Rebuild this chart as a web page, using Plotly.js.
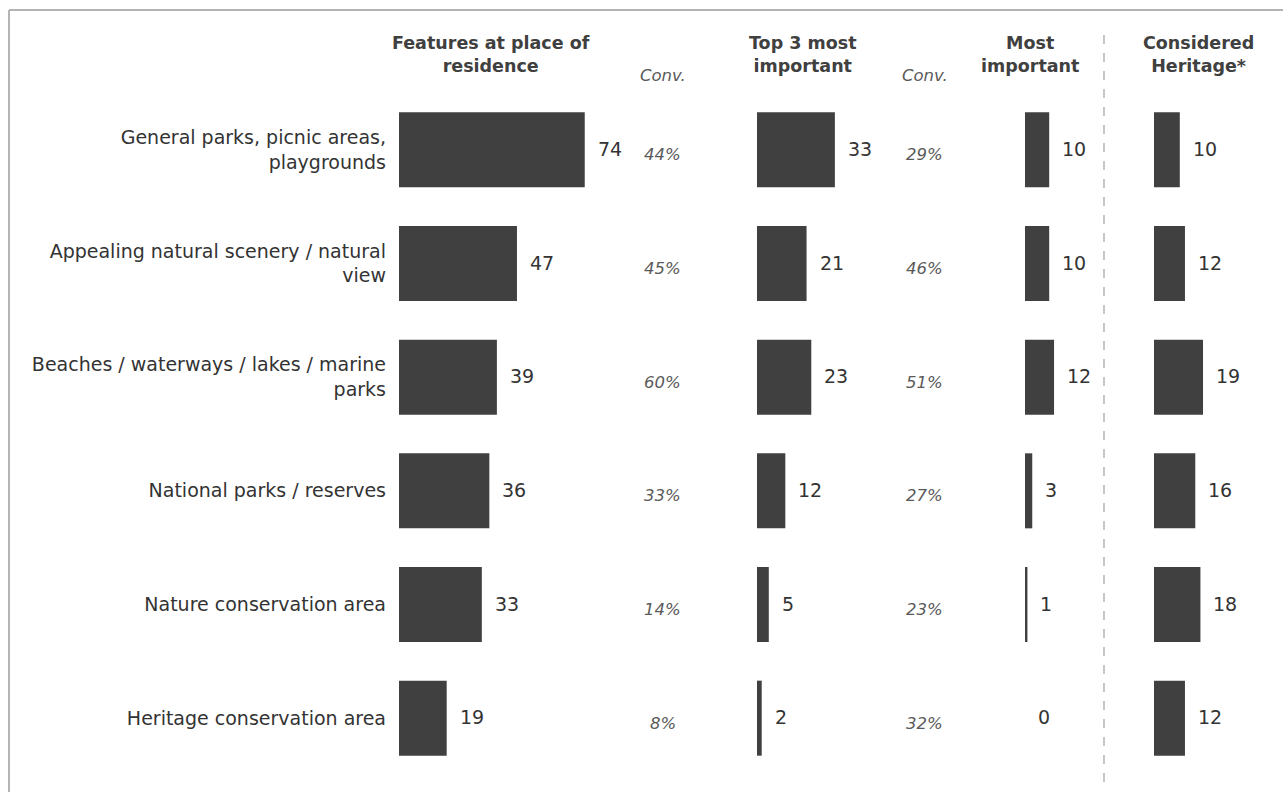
<!DOCTYPE html>
<html>
<head>
<meta charset="utf-8">
<script src="https://cdn.plot.ly/plotly-3.0.1.min.js"></script>
<style>
  html, body { margin: 0; padding: 0; background: #ffffff; }
  #chart { width: 1283px; height: 792px; }
</style>
</head>
<body>
<div id="chart"></div>
<script>
// ---- data ----
const categories = [
  "General parks, picnic areas,<br>playgrounds",
  "Appealing natural scenery / natural<br>view",
  "Beaches / waterways / lakes / marine<br>parks",
  "National parks / reserves",
  "Nature conservation area",
  "Heritage conservation area"
];
const featuresResidence = [74, 47, 39, 36, 33, 19];
const convResidence = [44, 45, 60, 33, 14, 8];
const top3Important = [33, 21, 23, 12, 5, 2];
const convTop3 = [29, 46, 51, 27, 23, 32];
const mostImportant = [10, 10, 12, 3, 1, 0];
const consideredHeritage = [10, 12, 19, 16, 18, 12];

const panelTitles = [
  "Features at place of<br>residence",
  "Top 3 most<br>important",
  "Most<br>important",
  "Considered<br>Heritage*"
];
const convLabel = "Conv.";

// ---- layout helpers (pixel geometry) ----
const W = 1283, H = 792;
const px = v => v / W;
const py = v => 1 - v / H;

const FONT = "DejaVu Sans, Verdana, sans-serif";
const BAR = "#404040";
const TXT = "#333333";
const GREY = "#5a5a5a";

const panels = [
  {axis: "x",  data: featuresResidence,  start: 399,  end: 630,  scale: 2.51, title: panelTitles[0], tx: 491},
  {axis: "x2", data: top3Important,      start: 757,  end: 880,  scale: 2.36, title: panelTitles[1], tx: 803},
  {axis: "x3", data: mostImportant,      start: 1025, end: 1095, scale: 2.42, title: panelTitles[2], tx: 1030},
  {axis: "x4", data: consideredHeritage, start: 1154, end: 1270, scale: 2.58, title: panelTitles[3], tx: 1198}
];

const traces = panels.map(p => ({
  type: "bar",
  orientation: "h",
  x: p.data,
  y: categories,
  xaxis: p.axis,
  yaxis: "y",
  width: 0.66,
  marker: {color: BAR, line: {width: 0}},
  hoverinfo: "x+y",
  showlegend: false
}));

const annotations = [];
// value labels
panels.forEach(p => {
  p.data.forEach((v, i) => {
    annotations.push({
      xref: p.axis, yref: "y", x: v, y: categories[i],
      text: String(v), showarrow: false,
      xanchor: "left", yanchor: "middle", xshift: 11, yshift: 1,
      font: {family: FONT, size: 19, color: TXT}
    });
  });
  annotations.push({
    xref: "paper", yref: "paper", x: px(p.tx), y: py(55),
    text: p.title, showarrow: false, xanchor: "center", yanchor: "middle",
    font: {family: FONT, size: 17.5, color: "#404040", weight: "bold"}
  });
});
// conversion columns
[[convResidence, 663], [convTop3, 925]].forEach(([vals, cx]) => {
  vals.forEach((v, i) => {
    annotations.push({
      xref: "paper", yref: "y", x: px(cx), y: categories[i],
      text: "<i>" + v + "%</i>", showarrow: false,
      xanchor: "center", yanchor: "middle", yshift: -5,
      font: {family: FONT, size: 16.5, color: GREY}
    });
  });
  annotations.push({
    xref: "paper", yref: "paper", x: px(cx), y: py(76),
    text: "<i>" + convLabel + "</i>", showarrow: false,
    xanchor: "center", yanchor: "middle",
    font: {family: FONT, size: 16.5, color: GREY}
  });
});

const shapes = [
  {type: "line", xref: "paper", yref: "paper", x0: px(9), x1: px(9), y0: py(10), y1: py(792),
   line: {color: "#b4b4b4", width: 2}},
  {type: "line", xref: "paper", yref: "paper", x0: px(9), x1: px(1283), y0: py(10), y1: py(10),
   line: {color: "#b4b4b4", width: 2}},
  {type: "line", xref: "paper", yref: "paper", x0: px(1104), x1: px(1104), y0: py(35), y1: py(783),
   line: {color: "#a0a0a0", width: 1.2, dash: "dash"}}
];

const layout = {
  width: W, height: H,
  margin: {l: 0, r: 0, t: 0, b: 0},
  paper_bgcolor: "#ffffff",
  plot_bgcolor: "rgba(0,0,0,0)",
  showlegend: false,
  bargap: 0.34,
  yaxis: {
    type: "category",
    domain: [17 / H, 1 - 93 / H],
    range: [5.5, -0.5],
    anchor: "x",
    showgrid: false, zeroline: false, showline: false, ticks: "",
    ticklabelstandoff: 12,
    tickfont: {family: FONT, size: 19, color: TXT}
  },
  annotations: annotations,
  shapes: shapes
};
panels.forEach((p, k) => {
  const key = k === 0 ? "xaxis" : "xaxis" + (k + 1);
  layout[key] = {
    domain: [px(p.start), px(p.end)],
    range: [0, (p.end - p.start) / p.scale],
    anchor: "y",
    visible: false,
    fixedrange: true
  };
});

Plotly.newPlot("chart", traces, layout, {displayModeBar: false, staticPlot: true});
</script>
</body>
</html>
